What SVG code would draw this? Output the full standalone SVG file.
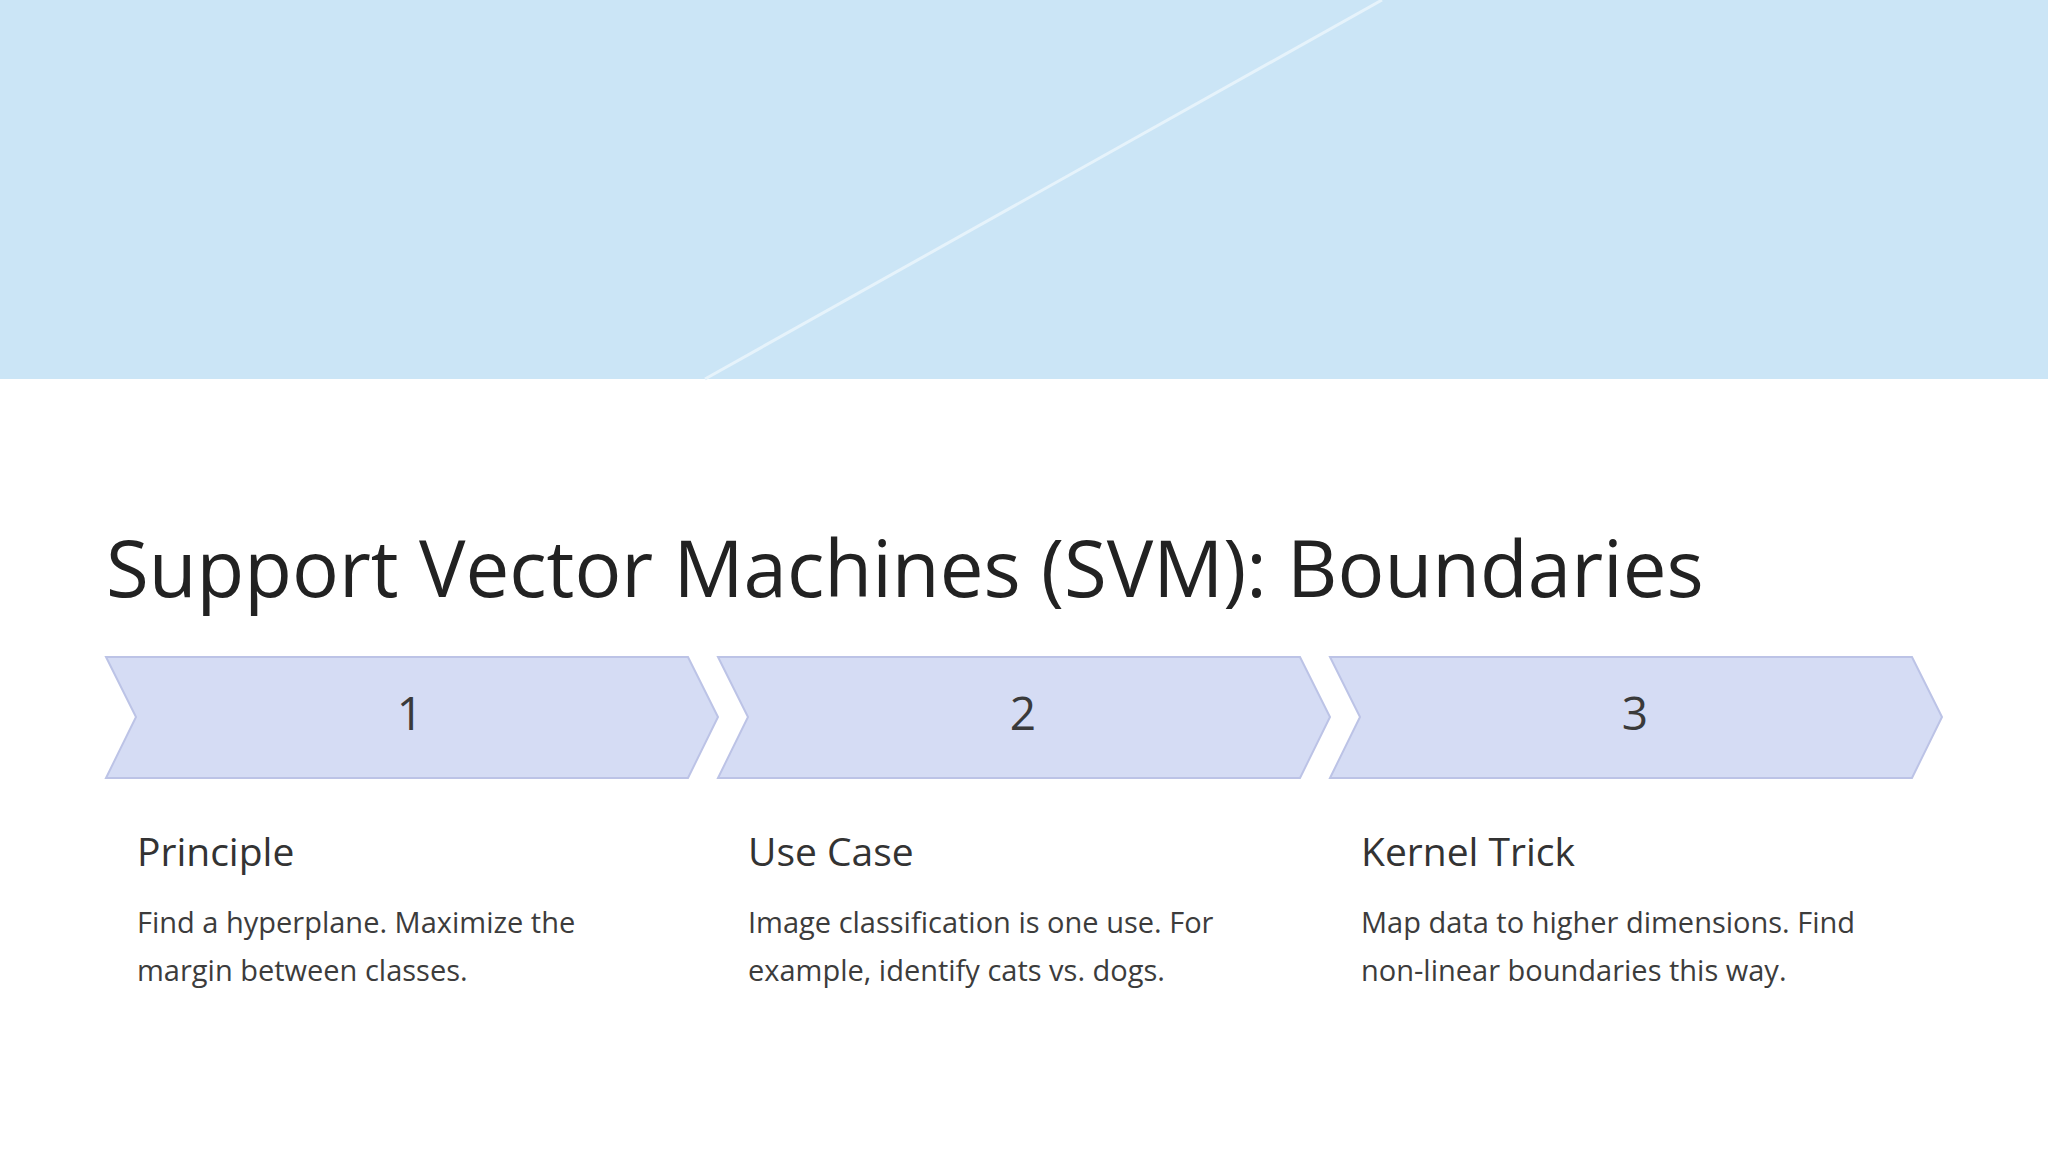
<svg xmlns="http://www.w3.org/2000/svg" width="2048" height="1152" viewBox="0 0 2048 1152">
<style>
.ch{fill:#D5DCF4;stroke:#BCC3E6;stroke-width:2}
.num{font-family:"Open Sans","Noto Sans",sans-serif;font-size:46px;fill:#3a3a3a;text-anchor:middle}
.h{font-family:"Open Sans","Noto Sans",sans-serif;font-size:39px;fill:#333}
.b{font-family:"Open Sans","Noto Sans",sans-serif;font-size:29px;fill:#3c3c3c}
</style>
<rect width="2048" height="1152" fill="#fff"/>
<rect id="banner" width="2048" height="379" fill="#CBE5F6"/>
<line x1="705" y1="379" x2="1382" y2="0" stroke="#E6F3FB" stroke-width="3"/>
<text id="title" x="106" y="597" font-family="'Open Sans','Noto Sans',sans-serif" font-size="78" fill="#222">Support Vector Machines (SVM): Boundaries</text>
<g id="step1">
<polygon class="ch" points="106,657 688,657 718,717 688,778 106,778 136,717"/>
<text class="num" x="410" y="730">1</text>
<text class="h" x="137" y="866">Principle</text>
<text class="b" x="137" y="933">Find a hyperplane. Maximize the</text>
<text class="b" x="137" y="981">margin between classes.</text>
</g>
<g id="step2">
<polygon class="ch" points="718,657 1300,657 1330,717 1300,778 718,778 748,717"/>
<text class="num" x="1023" y="730">2</text>
<text class="h" x="748" y="866">Use Case</text>
<text class="b" x="748" y="933">Image classification is one use. For</text>
<text class="b" x="748" y="981">example, identify cats vs. dogs.</text>
</g>
<g id="step3">
<polygon class="ch" points="1330,657 1912,657 1942,717 1912,778 1330,778 1360,717"/>
<text class="num" x="1635" y="730">3</text>
<text class="h" x="1361" y="866">Kernel Trick</text>
<text class="b" x="1361" y="933">Map data to higher dimensions. Find</text>
<text class="b" x="1361" y="981">non-linear boundaries this way.</text>
</g>
<g id="connectors"/>
</svg>
